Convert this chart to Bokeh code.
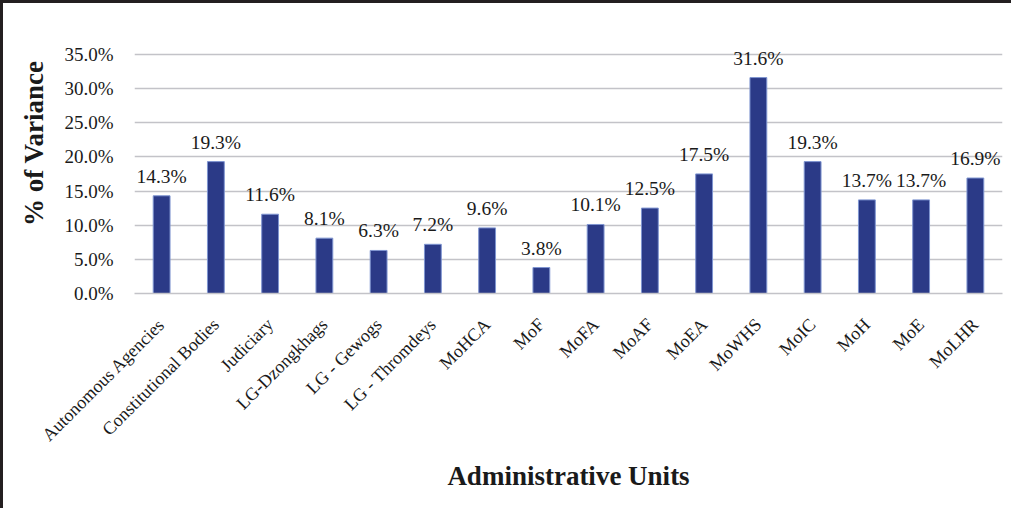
from bokeh.plotting import figure
from bokeh.models import ColumnDataSource, LabelSet, Title, FixedTicker, CustomJSTickFormatter
from bokeh.core.properties import value
from bokeh.embed import file_html
from bokeh.resources import INLINE
import math

categories = ["Autonomous Agencies", "Constitutional Bodies", "Judiciary", "LG-Dzongkhags",
              "LG - Gewogs", "LG - Thromdeys", "MoHCA", "MoF", "MoFA", "MoAF", "MoEA",
              "MoWHS", "MoIC", "MoH", "MoE", "MoLHR"]
variance_pct = [14.3, 19.3, 11.6, 8.1, 6.3, 7.2, 9.6, 3.8, 10.1, 12.5, 17.5, 31.6, 19.3, 13.7, 13.7, 16.9]
y_ticks = [0, 5, 10, 15, 20, 25, 30, 35]
y_title = "% of Variance"
x_title = "Administrative Units"

FONT = "Liberation Serif"
TXT = "#1a1a1a"

src = ColumnDataSource(dict(cat=categories, val=variance_pct,
                            lab=["%.1f%%" % v for v in variance_pct]))

p = figure(x_range=categories, y_range=(0, 36), width=1011, height=508,
           output_backend="svg", toolbar_location=None,
           min_border_left=126, min_border_right=12, min_border_top=44, min_border_bottom=218)
p.styles = {"border-top": "3px solid #231F20", "border-left": "3px solid #231F20"}

p.vbar(x="cat", top="val", width=0.31, source=src, fill_color="#2B3A87",
       line_color="#7F95D1", line_width=1)

labels = LabelSet(x="cat", y="val", text="lab", source=src, text_align="center",
                  text_baseline="bottom", y_offset=9, text_font=value(FONT),
                  text_font_size="19.5px", text_color=TXT)
p.add_layout(labels)

p.outline_line_color = None
p.xgrid.grid_line_color = None
p.ygrid.grid_line_color = "#C3C3C8"
p.ygrid.grid_line_width = 1.5

p.yaxis.ticker = FixedTicker(ticks=y_ticks)
p.yaxis.formatter = CustomJSTickFormatter(code="return tick.toFixed(1) + '%';")
p.yaxis.axis_line_color = None
p.yaxis.major_tick_line_color = None
p.yaxis.minor_tick_line_color = None
p.yaxis.major_label_text_font = FONT
p.yaxis.major_label_text_font_size = "19px"
p.yaxis.major_label_text_color = TXT
p.yaxis.major_label_standoff = 15

p.xaxis.axis_line_color = "#C3C3C8"
p.xaxis.axis_line_width = 1.5
p.xaxis.major_tick_line_color = None
p.xaxis.minor_tick_line_color = None
p.xaxis.major_label_orientation = math.pi / 4
p.xaxis.major_label_text_font = FONT
p.xaxis.major_label_text_font_size = "18px"
p.xaxis.major_label_text_color = TXT
p.xaxis.major_label_standoff = 22
p.xaxis.axis_label = x_title
p.xaxis.axis_label_text_font = FONT
p.xaxis.axis_label_text_font_size = "27px"
p.xaxis.axis_label_text_font_style = "bold"
p.xaxis.axis_label_text_color = TXT
p.xaxis.axis_label_standoff = 6

yt = Title(text=y_title, align="right", offset=13, standoff=26, text_font=FONT,
           text_font_size="27px", text_font_style="bold", text_color=TXT)
p.add_layout(yt, "left")

open("out.html", "w").write(file_html(p, INLINE))
